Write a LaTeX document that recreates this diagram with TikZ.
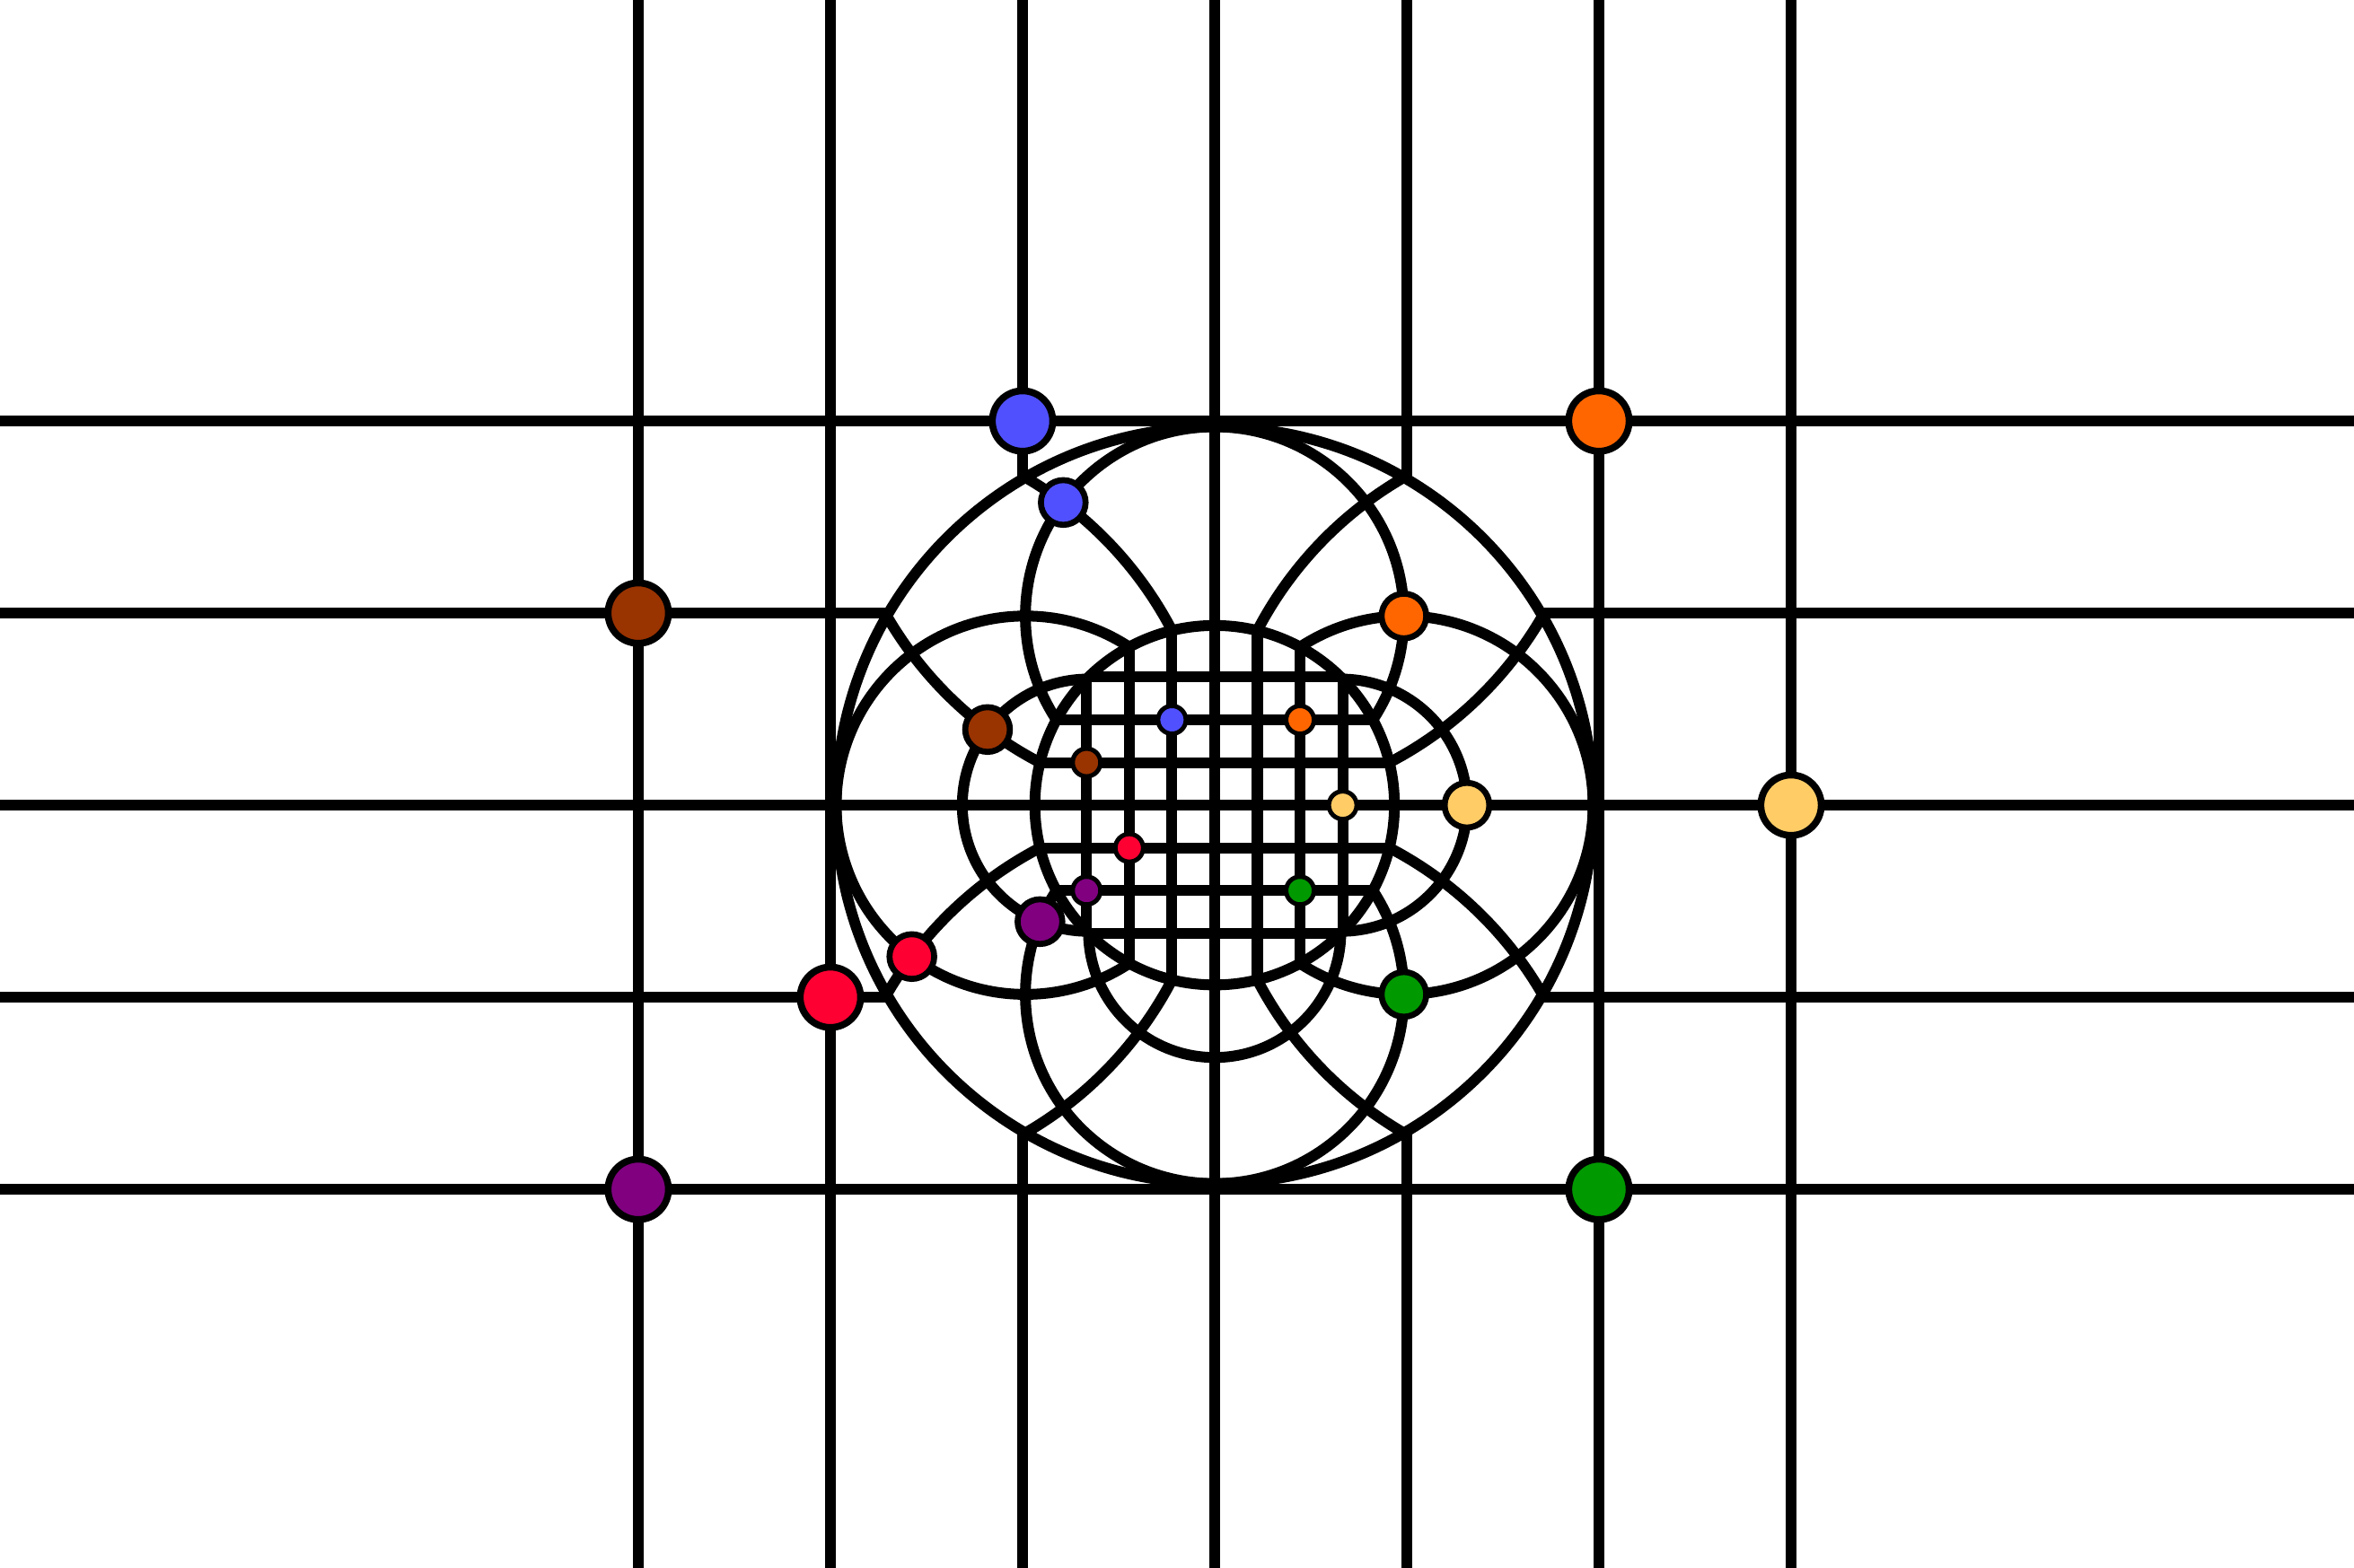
\documentclass[tikz,border=0pt]{standalone}
\definecolor{cBlue}{HTML}{5050FF}
\definecolor{cOrange}{HTML}{FF6600}
\definecolor{cBrown}{HTML}{993300}
\definecolor{cYellow}{HTML}{FFCC66}
\definecolor{cRed}{HTML}{FF0033}
\definecolor{cPurple}{HTML}{800080}
\definecolor{cGreen}{HTML}{009900}
\begin{document}
\begin{tikzpicture}[
  ln/.style={line width=1.6pt, black},
  bigdot/.style={circle, draw=black, line width=1.02pt, minimum size=8.95pt, inner sep=0pt},
  middot/.style={circle, draw=black, line width=0.89pt, minimum size=6.62pt, inner sep=0pt},
  smalldot/.style={circle, draw=black, line width=0.66pt, minimum size=4.12pt, inner sep=0pt}
]
\pgfmathsetmacro{\kk}{0.985}
\pgfmathsetmacro{\rr}{0.95}
\pgfmathsetmacro{\s}{\rr*\rr/4}
\pgfmathsetmacro{\cut}{sqrt(4*\kk*\kk-1)}
\useasboundingbox (-6.322,-3.967) rectangle (5.930,4.192);
\clip (-6.322,-3.967) rectangle (5.930,4.192);
\fill[white] (-6.322,-3.967) rectangle (5.930,4.192);
% outer grid (outside the big circle)
\foreach \x in {-3,-2,2,3} \draw[ln] (\x,-4.3) -- (\x,4.4);
\foreach \x in {-1,1} {
  \draw[ln] (\x,4.4) -- (\x,\cut);
  \draw[ln] (\x,-\cut) -- (\x,-4.3);
}
\foreach \y in {-2,2} \draw[ln] (-6.5,\y) -- (6.1,\y);
\foreach \y in {-1,1} {
  \draw[ln] (-6.5,\y) -- (-\cut,\y);
  \draw[ln] (\cut,\y) -- (6.1,\y);
}
\begin{scope}[scale=\kk]
  % images of the lines under inversion in the big circle
  \begin{scope}
    \clip (0,0) circle (2);
    \foreach \cx/\cy/\r in {2/0/2,-2/0/2,0/2/2,0/-2/2,1/0/1,-1/0/1,0/1/1,0/-1/1,0.6667/0/0.6667,-0.6667/0/0.6667,0/-0.6667/0.6667}
      \draw[ln] (\cx,\cy) circle (\r);
  \end{scope}
  \fill[white] (0,0) circle (\rr);
  % inner grid (inside the small circle)
  \begin{scope}
    \clip (0,0) circle (\rr);
    \foreach \k in {-3,...,3} {
      \draw[ln] (\k*\s,-1.2) -- (\k*\s,1.2);
      \draw[ln] (-1.2,\k*\s) -- (1.2,\k*\s);
    }
  \end{scope}
\end{scope}
\draw[ln] (0,-4.3) -- (0,4.4);
\draw[ln] (-6.5,0) -- (6.1,0);
\begin{scope}[scale=\kk]
  \draw[ln] (0,0) circle (2);
  \draw[ln] (0,0) circle (\rr);
\end{scope}
% outer points
\node[bigdot, fill=cBlue]   (bO) at (-1,2) {};
\node[bigdot, fill=cOrange] (oO) at (2,2) {};
\node[bigdot, fill=cBrown]  (brO) at (-3,1) {};
\node[bigdot, fill=cYellow] (yO) at (3,0) {};
\node[bigdot, fill=cRed]    (rO) at (-2,-1) {};
\node[bigdot, fill=cPurple] (pO) at (-3,-2) {};
\node[bigdot, fill=cGreen]  (gO) at (2,-2) {};
\begin{scope}[scale=\kk]
  % inverted points
  \node[middot, fill=cBlue]   (bM) at (-0.8,1.6) {};
  \node[middot, fill=cOrange] (oM) at (1,1) {};
  \node[middot, fill=cBrown]  (brM) at (-1.2,0.4) {};
  \node[middot, fill=cYellow] (yM) at (1.3333,0) {};
  \node[middot, fill=cRed]    (rM) at (-1.6,-0.8) {};
  \node[middot, fill=cPurple] (pM) at (-0.9231,-0.6154) {};
  \node[middot, fill=cGreen]  (gM) at (1,-1) {};
  % twice inverted points
  \node[smalldot, fill=cBlue]   (bI) at (-\s,2*\s) {};
  \node[smalldot, fill=cOrange] (oI) at (2*\s,2*\s) {};
  \node[smalldot, fill=cBrown]  (brI) at (-3*\s,\s) {};
  \node[smalldot, fill=cYellow] (yI) at (3*\s,0) {};
  \node[smalldot, fill=cRed]    (rI) at (-2*\s,-\s) {};
  \node[smalldot, fill=cPurple] (pI) at (-3*\s,-2*\s) {};
  \node[smalldot, fill=cGreen]  (gI) at (2*\s,-2*\s) {};
\end{scope}
\end{tikzpicture}
\end{document}
